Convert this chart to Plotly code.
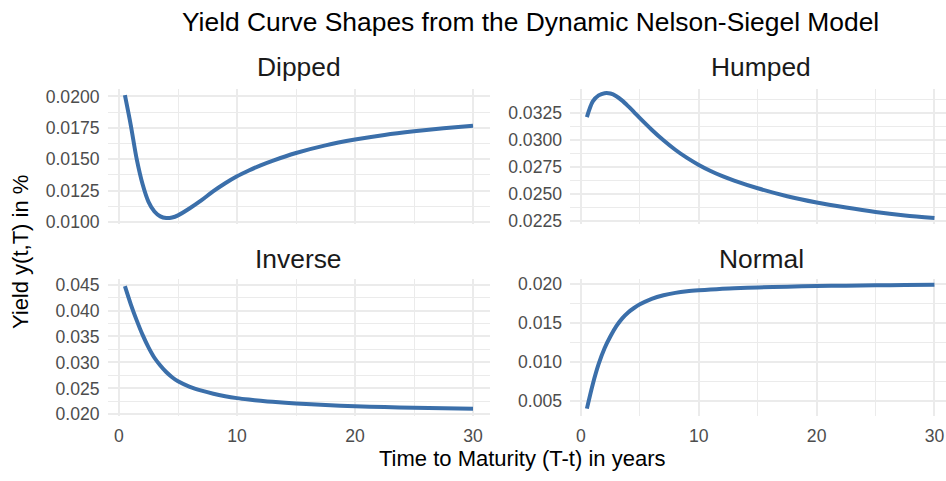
import plotly.graph_objects as go

# ---------------- data ----------------
maturity = [0.5, 1, 1.5, 2, 2.5, 3, 3.5, 4, 4.5, 5, 6, 7, 8, 9, 10, 11, 12, 13,
            15, 17.5, 20, 22.5, 25, 27.5, 30]

dipped = [0.0201, 0.0177, 0.0150, 0.0130, 0.0116, 0.01083, 0.01044, 0.01031,
          0.01035, 0.01052, 0.01109, 0.01173, 0.01245, 0.01308, 0.01364, 0.01410,
          0.01451, 0.01487, 0.01549, 0.01610, 0.01656, 0.01693, 0.01722, 0.01746,
          0.01767]

humped = [0.0321, 0.03355, 0.0341, 0.03431, 0.03428, 0.03403, 0.03362, 0.03311,
          0.03256, 0.03200, 0.03093, 0.02995, 0.02907, 0.02831, 0.02766, 0.02710,
          0.02662, 0.02621, 0.02550, 0.02476, 0.02418, 0.02371, 0.02330, 0.02298,
          0.02274]

inverse = [0.0447, 0.0412, 0.0381, 0.0353, 0.0329, 0.0309, 0.0294, 0.02815,
           0.02715, 0.02635, 0.0253, 0.02455, 0.02395, 0.02348, 0.02312, 0.02284,
           0.0226, 0.0224, 0.02208, 0.02178, 0.02156, 0.02139, 0.02126, 0.02115,
           0.02106]

normal = [0.00403, 0.00717, 0.00976, 0.01177, 0.01331, 0.01461, 0.01561, 0.01637,
          0.01694, 0.01741, 0.01812, 0.01858, 0.01888, 0.01908, 0.01921, 0.01931,
          0.01940, 0.01947, 0.01958, 0.01968, 0.01975, 0.01981, 0.01986, 0.01989,
          0.01992]

panel_names = ["Dipped", "Humped", "Inverse", "Normal"]
series = [dipped, humped, inverse, normal]

x_ticks = [0, 10, 20, 30]
y_ticks = [
    [0.0100, 0.0125, 0.0150, 0.0175, 0.0200],
    [0.0225, 0.0250, 0.0275, 0.0300, 0.0325],
    [0.020, 0.025, 0.030, 0.035, 0.040, 0.045],
    [0.005, 0.010, 0.015, 0.020],
]
y_tick_text = [
    ["0.0100", "0.0125", "0.0150", "0.0175", "0.0200"],
    ["0.0225", "0.0250", "0.0275", "0.0300", "0.0325"],
    ["0.020", "0.025", "0.030", "0.035", "0.040", "0.045"],
    ["0.005", "0.010", "0.015", "0.020"],
]
y_minor = [0.00125, 0.00125, 0.0025, 0.0025]

title_text = "Yield Curve Shapes from the Dynamic Nelson-Siegel Model"
x_title = "Time to Maturity (T-t) in years"
y_title = "Yield y(t,T) in %"

# ---------------- layout geometry ----------------
W, H = 946, 481
FONT = "Liberation Sans, Arial, Helvetica, sans-serif"
LINE_COLOR = "#3B6FAA"
GRID = "#EBEBEB"

x_domains = [[107.5 / W, 490 / W], [570 / W, 1.0],
             [107.5 / W, 490 / W], [570 / W, 1.0]]
y_domains = [[1 - 226 / H, 1 - 87 / H], [1 - 226 / H, 1 - 87 / H],
             [1 - 423.3 / H, 1 - 282.5 / H], [1 - 423.3 / H, 1 - 282.5 / H]]
x_ranges = [[-0.975, 31.44], [-0.934, 30.98], [-0.975, 31.44], [-0.934, 30.98]]
y_ranges = [[0.00984, 0.02062], [0.0222, 0.03473], [0.0197, 0.0461], [0.0031, 0.02068]]

fig = go.Figure()
layout = dict(
    width=W, height=H,
    margin=dict(l=0, r=0, t=0, b=0),
    paper_bgcolor="white", plot_bgcolor="white",
    showlegend=False,
    font=dict(family=FONT, color="#1A1A1A"),
)

annotations = []
for i, (name, ys) in enumerate(zip(panel_names, series)):
    n = "" if i == 0 else str(i + 1)
    fig.add_trace(go.Scatter(
        x=maturity, y=ys, mode="lines",
        line=dict(color=LINE_COLOR, width=4, shape="spline", smoothing=0.8),
        xaxis="x" + n, yaxis="y" + n, hoverinfo="skip",
    ))
    bottom = i >= 2
    layout["xaxis" + n] = dict(
        domain=x_domains[i], range=x_ranges[i], anchor="y" + n,
        tickvals=x_ticks, ticktext=[str(v) for v in x_ticks],
        showticklabels=bottom, ticks="", showline=False, zeroline=False,
        showgrid=True, gridcolor=GRID, gridwidth=2.1,
        minor=dict(dtick=5, tick0=0, showgrid=True, gridcolor=GRID, gridwidth=1.1),
        tickfont=dict(size=17.6, color="#4D4D4D", family=FONT),
        ticklabelstandoff=8,
    )
    layout["yaxis" + n] = dict(
        domain=y_domains[i], range=y_ranges[i], anchor="x" + n,
        tickvals=y_ticks[i], ticktext=y_tick_text[i],
        ticks="", showline=False, zeroline=False,
        showgrid=True, gridcolor=GRID, gridwidth=2.1,
        minor=dict(dtick=y_minor[i], tick0=y_ticks[i][0], showgrid=True,
                   gridcolor=GRID, gridwidth=1.1),
        tickfont=dict(size=17.6, color="#4D4D4D", family=FONT),
        ticklabelstandoff=7,
    )
    xd, yd = x_domains[i], y_domains[i]
    xc = (xd[0] + (570 + 952) / 2 / W - 570 / W) if i % 2 else (xd[0] + xd[1]) / 2
    strip_y = 1 - (65 / H) if i < 2 else 1 - (262 / H)
    annotations.append(dict(
        text=name, x=xc, y=strip_y, xref="paper", yref="paper",
        xanchor="center", yanchor="middle", showarrow=False,
        font=dict(size=26.4, color="#1A1A1A", family=FONT),
    ))

annotations.append(dict(
    text=title_text, x=530 / W, y=1 - 18 / H, xref="paper", yref="paper",
    xanchor="center", yanchor="middle", showarrow=False,
    font=dict(size=26.4, color="black", family=FONT),
))
annotations.append(dict(
    text=x_title, x=522 / W, y=0, xref="paper", yref="paper",
    xanchor="center", yanchor="bottom", showarrow=False, borderpad=0,
    font=dict(size=22, color="black", family=FONT),
))
annotations.append(dict(
    text=y_title, x=20 / W, y=1 - 255 / H, xref="paper", yref="paper",
    xanchor="center", yanchor="middle", showarrow=False, textangle=-90,
    font=dict(size=22, color="black", family=FONT),
))
layout["annotations"] = annotations
fig.update_layout(**layout)
fig.write_html("out.html")
